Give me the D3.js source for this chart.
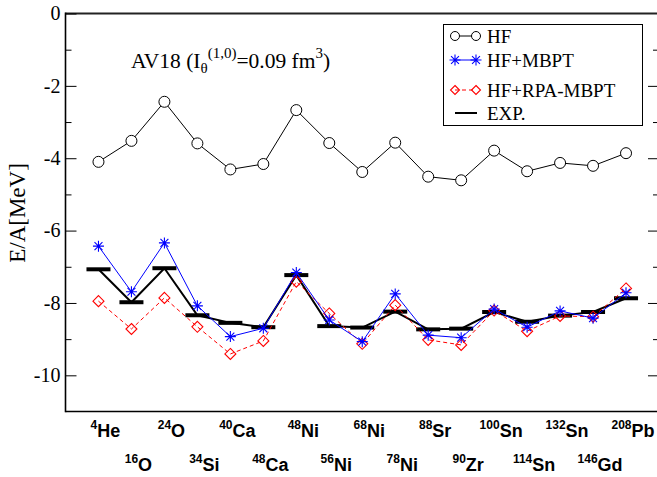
<!DOCTYPE html>
<html>
<head>
<meta charset="utf-8">
<script src="https://cdn.jsdelivr.net/npm/d3@7"></script>
<style>
  html, body { margin: 0; padding: 0; background: #fff; }
  svg { display: block; }
</style>
</head>
<body>
<svg id="chart" width="657" height="477"></svg>
<script>
// ---- data ----
const massNumbers = ["4","16","24","34","40","48","48","56","68","78","88","90","100","114","132","146","208"];
const elements    = ["He","O","O","Si","Ca","Ca","Ni","Ni","Ni","Ni","Sr","Zr","Sn","Sn","Sn","Gd","Pb"];
const hf      = [-4.10,-3.52,-2.44,-3.59,-4.31,-4.16,-2.67,-3.58,-4.38,-3.57,-4.51,-4.61,-3.79,-4.36,-4.13,-4.21,-3.86];
const hfMbpt  = [-6.43,-7.69,-6.34,-8.08,-8.93,-8.70,-7.16,-8.47,-9.07,-7.75,-8.89,-8.96,-8.17,-8.67,-8.22,-8.42,-7.72];
const hfRpa   = [-7.95,-8.72,-7.86,-8.66,-9.41,-9.05,-7.41,-8.29,-9.13,-8.06,-9.02,-9.16,-8.21,-8.78,-8.36,-8.38,-7.60];
const expData = [-7.07,-7.98,-7.04,-8.34,-8.55,-8.67,-7.23,-8.64,-8.68,-8.24,-8.73,-8.71,-8.25,-8.52,-8.35,-8.25,-7.87];
const yMajorTicks = [0,-2,-4,-6,-8,-10];
const yMinorTicks = [-1,-3,-5,-7,-9];
const legendLabels = ["HF","HF+MBPT","HF+RPA-MBPT","EXP."];

// ---- scales ----
const svg = d3.select("#chart");
const L = 65.5, R = 659, T = 13.5, B = 411.5;
const x = d3.scaleLinear().domain([0, 18]).range([L, R]);
const y = d3.scaleLinear().domain([-11, 0]).range([B, T]);
const idx = d3.range(hf.length);
const px = i => x(i + 1);

const serif = "'Liberation Serif','Times New Roman',serif";
const sans = "'Liberation Sans',Arial,sans-serif";

// ---- frame ----
svg.append("line").attr("x1", L).attr("x2", R).attr("y1", T).attr("y2", T)
  .attr("stroke", "#222").attr("stroke-width", 2);
svg.append("line").attr("x1", L).attr("x2", R).attr("y1", B).attr("y2", B)
  .attr("stroke", "#000").attr("stroke-width", 1.6);
svg.append("line").attr("x1", L).attr("x2", L).attr("y1", T - 1).attr("y2", B + 0.8)
  .attr("stroke", "#000").attr("stroke-width", 1.6);
svg.append("line").attr("x1", R).attr("x2", R).attr("y1", T).attr("y2", B)
  .attr("stroke", "#000").attr("stroke-width", 1.6);

// left axis (inward ticks)
const gL = svg.append("g").attr("transform", `translate(${L},0)`)
  .call(d3.axisLeft(y).tickValues(yMajorTicks).tickSizeInner(-11).tickSizeOuter(0)
        .tickPadding(5).tickFormat(d => String(d)));
gL.select(".domain").remove();
gL.selectAll("text").attr("font-family", serif).attr("font-size", 20).attr("fill", "#000");
gL.selectAll("line").attr("stroke", "#000");
const gLm = svg.append("g").attr("transform", `translate(${L},0)`)
  .call(d3.axisLeft(y).tickValues(yMinorTicks).tickSizeInner(-6).tickSizeOuter(0).tickFormat(""));
gLm.select(".domain").remove();

// right axis (inward ticks)
const gR = svg.append("g").attr("transform", `translate(${R},0)`)
  .call(d3.axisRight(y).tickValues(yMajorTicks.filter(d => d !== 0)).tickSizeInner(-11).tickSizeOuter(0).tickFormat(""));
gR.select(".domain").remove();
const gRm = svg.append("g").attr("transform", `translate(${R},0)`)
  .call(d3.axisRight(y).tickValues(yMinorTicks).tickSizeInner(-6).tickSizeOuter(0).tickFormat(""));
gRm.select(".domain").remove();

// y label
svg.append("text")
  .attr("transform", `translate(25,213) rotate(-90)`)
  .attr("text-anchor", "middle")
  .attr("font-family", serif).attr("font-size", 23)
  .text("E/A[MeV]");

// x labels (two staggered rows)
const xl = svg.append("g").selectAll("text").data(idx).join("text")
  .attr("x", i => px(i) + 7)
  .attr("y", i => i % 2 === 0 ? 437 : 471)
  .attr("text-anchor", "middle")
  .attr("font-family", sans).attr("font-weight", "bold").attr("font-size", 18);
xl.append("tspan").attr("font-size", 12).attr("dy", -8).text(i => massNumbers[i]);
xl.append("tspan").attr("dy", 8).text(i => elements[i]);

// title
const title = svg.append("text").attr("x", 131).attr("y", 68)
  .attr("font-family", serif).attr("font-size", 21.5);
title.append("tspan").text("AV18 (I");
title.append("tspan").attr("font-size", 15).attr("dy", 5).text("θ");
title.append("tspan").attr("font-size", 15).attr("dy", -15).text("(1,0)");
title.append("tspan").attr("dy", 10).text("=0.09 fm");
title.append("tspan").attr("font-size", 15).attr("dy", -10).text("3");
title.append("tspan").attr("dy", 10).text(")");

// ---- marker helpers ----
function circle(g, cx, cy, r = 5.5) {
  g.append("circle").attr("cx", cx).attr("cy", cy).attr("r", r)
    .attr("fill", "#fff").attr("stroke", "#000").attr("stroke-width", 1);
}
function star(g, cx, cy, s = 5.5) {
  const d = s * 0.72;
  const p = `M${cx - s},${cy}H${cx + s}M${cx},${cy - s}V${cy + s}` +
            `M${cx - d},${cy - d}L${cx + d},${cy + d}M${cx - d},${cy + d}L${cx + d},${cy - d}`;
  g.append("path").attr("d", p).attr("stroke", "#0000ff").attr("stroke-width", 1.1).attr("fill", "none");
}
function diamond(g, cx, cy, s = 5.5) {
  g.append("path").attr("d", `M${cx},${cy - s}L${cx + s},${cy}L${cx},${cy + s}L${cx - s},${cy}Z`)
    .attr("fill", "none").attr("stroke", "#ff0000").attr("stroke-width", 1.1);
}

const line = arr => d3.line().x(i => px(i)).y(i => y(arr[i]))(idx);

// ---- series ----
// HF
svg.append("path").attr("d", line(hf)).attr("fill", "none").attr("stroke", "#000").attr("stroke-width", 1);
const gHF = svg.append("g");
idx.forEach(i => circle(gHF, px(i), y(hf[i])));

// EXP
svg.append("path").attr("d", line(expData)).attr("fill", "none").attr("stroke", "#000").attr("stroke-width", 2);
svg.append("g").selectAll("rect").data(idx).join("rect")
  .attr("x", i => px(i) - 12).attr("y", i => y(expData[i]) - 2)
  .attr("width", 24).attr("height", 4).attr("fill", "#000");

// HF+RPA-MBPT
svg.append("path").attr("d", line(hfRpa)).attr("fill", "none").attr("stroke", "#ff0000")
  .attr("stroke-width", 1).attr("stroke-dasharray", "4,3");
const gR2 = svg.append("g");
idx.forEach(i => diamond(gR2, px(i), y(hfRpa[i])));

// HF+MBPT
svg.append("path").attr("d", line(hfMbpt)).attr("fill", "none").attr("stroke", "#0000ff").attr("stroke-width", 1);
const gM = svg.append("g");
idx.forEach(i => star(gM, px(i), y(hfMbpt[i])));

// ---- legend ----
const lg = svg.append("g");
lg.append("rect").attr("x", 443.5).attr("y", 24.5).attr("width", 199).attr("height", 101)
  .attr("fill", "#fff").attr("stroke", "#000").attr("stroke-width", 1);
const rowsY = [36, 60, 90, 113];
const x0 = 455, x1 = 476;
// HF
lg.append("line").attr("x1", x0).attr("x2", x1).attr("y1", rowsY[0]).attr("y2", rowsY[0]).attr("stroke", "#000");
circle(lg, x0, rowsY[0], 4.5); circle(lg, x1, rowsY[0], 4.5);
// MBPT
lg.append("line").attr("x1", x0).attr("x2", x1).attr("y1", rowsY[1]).attr("y2", rowsY[1]).attr("stroke", "#0000ff");
star(lg, x0, rowsY[1], 5.5); star(lg, x1, rowsY[1], 5.5);
// RPA
lg.append("line").attr("x1", x0).attr("x2", x1).attr("y1", rowsY[2]).attr("y2", rowsY[2])
  .attr("stroke", "#ff0000").attr("stroke-dasharray", "4,3");
diamond(lg, x0, rowsY[2], 4.5); diamond(lg, x1, rowsY[2], 4.5);
// EXP
lg.append("line").attr("x1", 455).attr("x2", 477).attr("y1", rowsY[3]).attr("y2", rowsY[3])
  .attr("stroke", "#000").attr("stroke-width", 2);
lg.selectAll("text.lbl").data(legendLabels).join("text").attr("class", "lbl")
  .attr("x", 487).attr("y", (d, i) => rowsY[i] + 6.5)
  .attr("font-family", serif).attr("font-size", 19).text(d => d);
</script>
</body>
</html>
